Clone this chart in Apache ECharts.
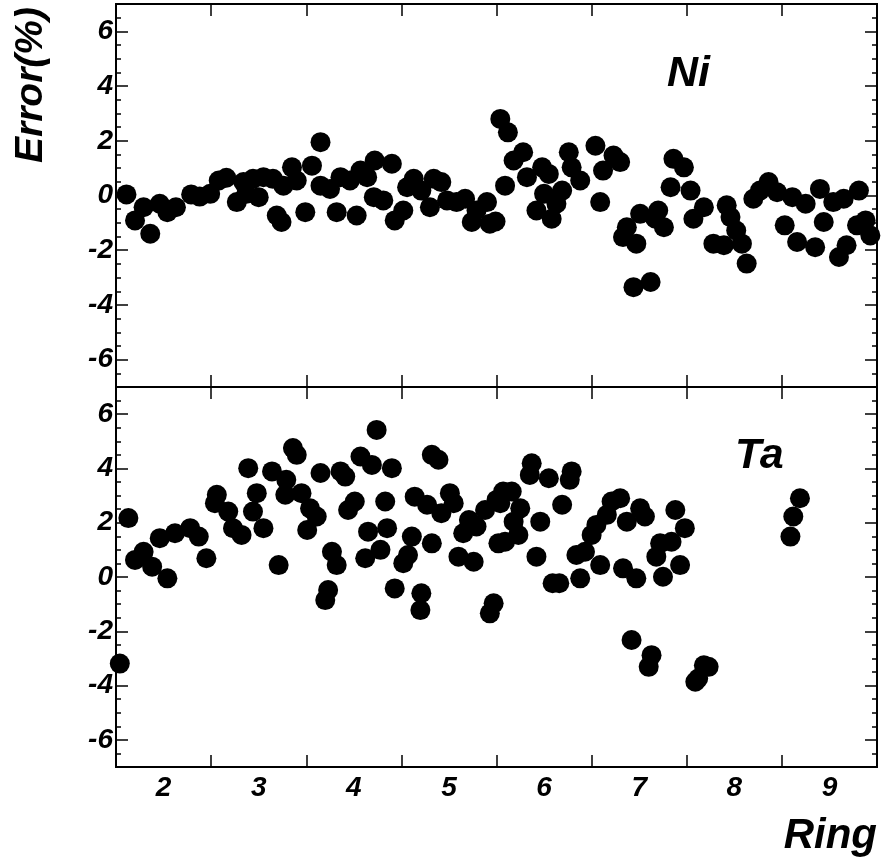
<!DOCTYPE html>
<html>
<head>
<meta charset="utf-8">
<script src="https://cdn.jsdelivr.net/npm/echarts@6/dist/echarts.min.js"></script>
<style>
html,body{margin:0;padding:0;background:#fff;}
#chart{width:882px;height:864px;}
</style>
</head>
<body>
<div id="chart"></div>
<script>
// Ring axis: labels at ring numbers, ticks at ring boundaries
var ringLabels = [2, 3, 4, 5, 6, 7, 8, 9];
var ringTicks = [2.5, 3.5, 4.5, 5.5, 6.5, 7.5, 8.5];
var errTicks = [-6, -4, -2, 0, 2, 4, 6];
var errMinorTicks = [-6.5, -5.5, -5, -4.5, -3.5, -3, -2.5, -1.5, -1, -0.5, 0.5, 1, 1.5, 2.5, 3, 3.5, 4.5, 5, 5.5, 6.5];

// Ni
var niX = [1.61,1.70,1.79,1.86,1.96,2.04,2.13,2.29,2.38,2.49,2.58,2.66,2.77,2.84,2.87,2.94,3.00,3.05,3.15,3.19,
3.24,3.26,3.35,3.40,3.49,3.56,3.65,3.65,3.75,3.82,3.86,3.96,4.03,4.07,4.14,4.22,4.21,4.31,4.40,4.43,
4.52,4.56,4.63,4.71,4.80,4.84,4.92,4.98,5.08,5.17,5.24,5.29,5.40,5.43,5.49,5.54,5.62,5.59,5.68,5.78,
5.82,5.92,5.98,6.00,6.05,6.08,6.13,6.19,6.26,6.29,6.38,6.54,6.59,6.62,6.73,6.80,6.87,6.83,6.94,6.97,
7.01,7.12,7.17,7.20,7.26,7.36,7.47,7.33,7.54,7.57,7.68,7.78,7.89,7.92,7.96,8.02,8.08,8.13,8.20,8.27,
8.36,8.45,8.53,8.61,8.66,8.75,8.85,8.90,8.94,9.04,9.10,9.18,9.15,9.31,9.29,9.43,9.38];
var niY = [0.04,-0.91,-0.43,-1.40,-0.30,-0.61,-0.43,0.04,-0.04,0.06,0.55,0.65,-0.24,0.49,0.06,0.61,-0.06,0.67,0.61,-0.73,
-0.97,0.36,1.03,0.55,-0.61,1.09,1.95,0.36,0.24,-0.61,0.67,0.55,-0.73,0.91,0.67,1.28,-0.06,-0.18,1.16,-0.91,
-0.55,0.30,0.61,0.18,-0.43,0.61,0.49,-0.18,-0.24,-0.12,-0.97,-0.55,-0.24,-1.03,-0.95,2.80,2.31,0.36,1.28,1.58,
0.67,-0.55,1.03,0.06,0.79,-0.85,-0.30,0.18,1.58,1.03,0.55,1.82,-0.24,0.91,1.46,1.22,-1.16,-1.52,-3.35,-1.76,
-0.67,-3.16,-0.85,-0.55,-1.16,1.34,1.03,0.30,0.18,-0.85,-0.43,-1.76,-1.82,-0.36,-0.79,-1.28,-1.76,-2.49,-0.12,0.18,
0.49,0.12,-1.09,-0.06,-1.70,-0.30,-1.89,0.24,-0.97,-0.24,-2.25,-1.82,-0.12,0.18,-1.09,-1.46,-0.91];

// Ta
var taX = [1.54,1.63,1.70,1.79,1.88,1.96,2.04,2.12,2.28,2.37,2.45,2.56,2.54,2.68,2.73,2.82,2.89,2.98,2.94,3.05,
3.14,3.21,3.29,3.28,3.36,3.40,3.45,3.54,3.51,3.61,3.65,3.77,3.82,3.73,3.70,3.86,3.91,3.94,4.01,4.07,
4.19,4.15,4.12,4.24,4.28,4.33,4.35,4.40,4.43,4.52,4.57,4.61,4.64,4.71,4.70,4.77,4.82,4.82,4.89,4.92,
5.01,5.05,5.10,5.15,5.21,5.26,5.29,5.38,5.43,5.47,5.52,5.50,5.57,5.66,5.54,5.59,5.68,5.75,5.73,5.87,
5.85,5.96,5.92,6.05,6.09,6.16,6.19,6.29,6.27,6.38,6.34,6.43,6.50,6.59,6.55,6.66,6.71,6.80,6.87,6.83,
6.92,6.97,7.01,7.06,7.13,7.10,7.18,7.22,7.25,7.34,7.38,7.43,7.48,7.68,7.73,7.62,7.59,8.69,8.62,8.59];
var taY = [-3.19,2.17,0.63,0.93,0.38,1.43,-0.05,1.61,1.80,1.49,0.69,3.03,2.72,2.41,1.80,1.55,4.01,3.09,2.41,1.80,
3.89,0.44,3.58,3.03,4.75,4.50,3.09,2.53,1.73,2.23,3.83,0.93,0.44,-0.48,-0.85,3.89,3.70,2.47,2.78,4.44,
4.13,1.67,0.69,5.42,1.00,2.78,1.80,4.01,-0.42,0.51,0.81,1.49,2.96,-0.60,-1.22,2.66,1.24,4.50,4.32,2.35,
3.09,2.72,0.75,1.61,2.10,0.56,1.86,2.47,-1.34,-0.97,1.24,2.84,3.15,3.15,2.72,1.30,2.04,2.53,1.55,4.19,
3.76,2.04,0.75,3.64,-0.23,-0.23,2.66,3.89,3.58,-0.05,0.81,0.93,1.55,0.44,1.92,2.29,2.78,2.90,2.04,0.32,
-2.32,-0.05,2.53,2.23,-2.88,-3.31,0.75,1.24,0.01,1.30,2.47,0.44,1.80,-3.25,-3.31,-3.74,-3.86,2.90,2.23,1.49];

function pairs(xs, ys) { return xs.map(function (x, i) { return [x, ys[i]]; }); }

var FONT = '"Liberation Sans", Arial, sans-serif';
var lineStyle = { color: '#000', width: 2 };

function xAx(grid, pos, labels) {
  return {
    type: 'value', gridIndex: grid, position: pos, min: 1.5, max: 9.5,
    axisLine: { show: true, onZero: false, lineStyle: lineStyle },
    axisTick: { show: true, inside: true, length: 12, customValues: ringTicks, lineStyle: { color: '#000', width: 1.5 } },
    axisLabel: labels ? {
      show: true, customValues: ringLabels, margin: 7,
      fontFamily: FONT, fontWeight: 'bold', fontStyle: 'italic', fontSize: 28, color: '#000'
    } : { show: false },
    splitLine: { show: false }
  };
}
function yAx(grid, pos, minor) {
  return {
    type: 'value', gridIndex: grid, position: pos, min: -7, max: 7,
    axisLine: { show: true, onZero: false, lineStyle: lineStyle },
    axisTick: { show: true, inside: true, length: minor ? 5 : 12,
      customValues: minor ? errMinorTicks : errTicks, lineStyle: { color: '#000', width: 1.5 } },
    axisLabel: (pos === 'left' && !minor) ? {
      show: true, customValues: errTicks, margin: 3,
      fontFamily: FONT, fontWeight: 'bold', fontStyle: 'italic', fontSize: 28, color: '#000'
    } : { show: false },
    splitLine: { show: false }
  };
}

var chart = echarts.init(document.getElementById('chart'), null, { renderer: 'canvas' });
var option = {
  backgroundColor: '#fff',
  animation: false,
  grid: [
    { left: 116, width: 761, top: 4, height: 383 },
    { left: 116, width: 761, top: 387, height: 380 }
  ],
  xAxis: [xAx(0, 'bottom', false), xAx(0, 'top', false), xAx(1, 'bottom', true), xAx(1, 'top', false)],
  yAxis: [yAx(0, 'left', false), yAx(0, 'left', true), yAx(0, 'right', false), yAx(0, 'right', true),
          yAx(1, 'left', false), yAx(1, 'left', true), yAx(1, 'right', false), yAx(1, 'right', true)],
  series: [
    { name: 'Ni', type: 'scatter', xAxisIndex: 0, yAxisIndex: 0, symbol: 'circle', symbolSize: 20,
      itemStyle: { color: '#000', opacity: 1 }, data: pairs(niX, niY) },
    { name: 'Ta', type: 'scatter', xAxisIndex: 2, yAxisIndex: 4, symbol: 'circle', symbolSize: 20,
      itemStyle: { color: '#000', opacity: 1 }, data: pairs(taX, taY) }
  ],
  graphic: [
    { type: 'text', x: 31, y: 85, rotation: Math.PI / 2,
      style: { text: 'Error(%)', fill: '#000', font: 'italic bold 39px ' + FONT, align: 'center', verticalAlign: 'middle' } },
    { type: 'text', x: 877, y: 836,
      style: { text: 'Ring', fill: '#000', font: 'italic bold 42px ' + FONT, align: 'right', verticalAlign: 'middle' } },
    { type: 'text', x: 667, y: 74,
      style: { text: 'Ni', fill: '#000', font: 'italic bold 43px ' + FONT, align: 'left', verticalAlign: 'middle' } },
    { type: 'text', x: 735, y: 456,
      style: { text: 'Ta', fill: '#000', font: 'italic bold 43px ' + FONT, align: 'left', verticalAlign: 'middle' } }
  ]
};
chart.setOption(option);
</script>
</body>
</html>
